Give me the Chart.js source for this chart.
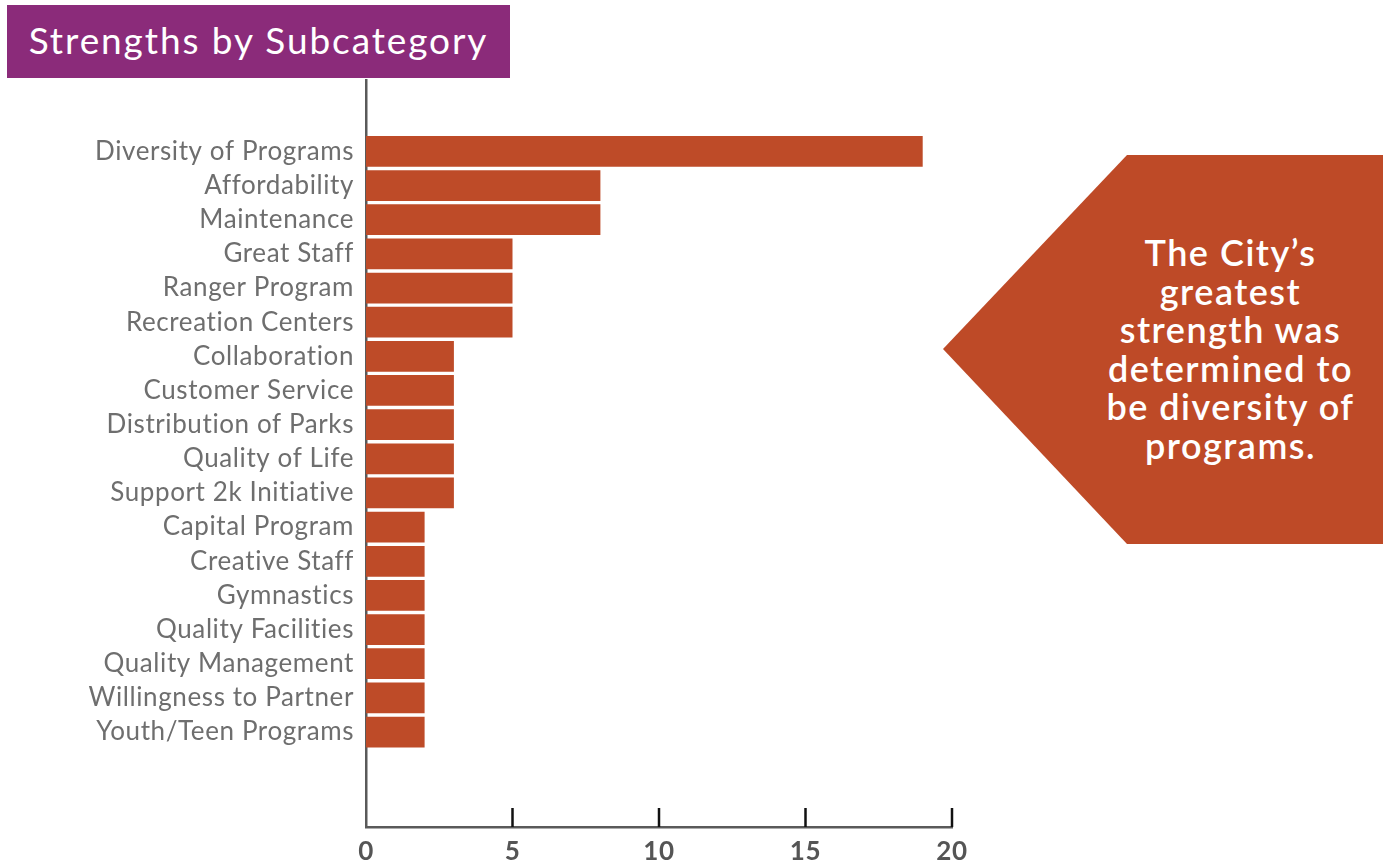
<!DOCTYPE html>
<html>
<head>
<meta charset="utf-8">
<script src="https://cdn.jsdelivr.net/npm/chart.js@4.4.1/dist/chart.umd.min.js"></script>
<style>
  html, body { margin: 0; padding: 0; background: #fff; }
  #wrap { position: relative; width: 1389px; height: 867px; overflow: hidden; }
  #chart { position: absolute; left: 0; top: 0; }
  #title {
    position: absolute; left: 7px; top: 5px; width: 503px; height: 73px;
    background: #8b2b7a; color: #fff; font-family: Lato, "Noto Sans", sans-serif;
    font-size: 37px; line-height: 70px; text-align: center; letter-spacing: 1.9px;
  }
  #callout {
    position: absolute; left: 943px; top: 155px; width: 440px; height: 389px;
    background: #be4a27;
    clip-path: polygon(184px 0, 440px 0, 440px 389px, 184px 389px, 0 194px);
  }
  #callout div {
    position: absolute; left: 130px; width: 315px; top: 78px;
    color: #fff; font-family: Lato, "Noto Sans", sans-serif; font-weight: 600;
    font-size: 36px; line-height: 38.5px; text-align: center; letter-spacing: 1.5px;
  }
</style>
</head>
<body>
<div id="wrap">
  <canvas id="chart" width="1389" height="867"></canvas>
  <div id="title">Strengths by Subcategory</div>
  <div id="callout"><div>The City’s<br>greatest<br>strength was<br>determined to<br>be diversity of<br>programs.</div></div>
</div>
<script>
(function () {
  const categories = [
    "Diversity of Programs", "Affordability", "Maintenance", "Great Staff",
    "Ranger Program", "Recreation Centers", "Collaboration", "Customer Service",
    "Distribution of Parks", "Quality of Life", "Support 2k Initiative",
    "Capital Program", "Creative Staff", "Gymnastics", "Quality Facilities",
    "Quality Management", "Willingness to Partner", "Youth/Teen Programs"
  ];
  const counts = [19, 8, 8, 5, 5, 5, 3, 3, 3, 3, 3, 2, 2, 2, 2, 2, 2, 2];
  const xTicks = [0, 5, 10, 15, 20];

  // wider letter spacing for the axis text, closer to the original typeface
  const spacing = {
    id: "spacing",
    beforeDraw(chart) {
      chart.ctx.letterSpacing = "0.6px";
    },
    afterDraw(chart) {
      chart.ctx.letterSpacing = "0px";
    },
  };

  // tick marks pointing up into the plot from the bottom axis
  const innerTicks = {
    id: "innerTicks",
    afterDraw(chart) {
      const ctx = chart.ctx;
      const xs = chart.scales.x;
      const bottom = chart.chartArea.bottom;
      ctx.save();
      ctx.strokeStyle = "#111";
      ctx.lineWidth = 2.5;
      xTicks.slice(1).forEach((v) => {
        const px = xs.getPixelForValue(v);
        ctx.beginPath();
        ctx.moveTo(px, bottom);
        ctx.lineTo(px, bottom - 19);
        ctx.stroke();
      });
      ctx.restore();
    },
  };

  const ctx = document.getElementById("chart").getContext("2d");
  new Chart(ctx, {
    type: "bar",
    data: {
      datasets: [
        {
          data: counts.map((v, i) => ({ x: v, y: i })),
          backgroundColor: "#be4b28",
          borderWidth: 0,
          barPercentage: 0.9,
          categoryPercentage: 1,
        },
      ],
    },
    options: {
      indexAxis: "y",
      responsive: false,
      animation: false,
      layout: { padding: { top: 80, right: 437, left: 0, bottom: 0 } },
      plugins: { legend: { display: false }, tooltip: { enabled: false } },
      scales: {
        x: {
          type: "linear",
          min: 0,
          max: 20,
          afterBuildTicks: (scale) => {
            scale.ticks = xTicks.map((v) => ({ value: v }));
          },
          afterFit: (scale) => {
            scale.height = 40;
          },
          grid: { display: false, drawTicks: false },
          border: { display: true, color: "#5a5a5a", width: 2.5 },
          ticks: {
            padding: 9,
            color: "#555",
            font: { family: "Lato, 'Noto Sans', sans-serif", size: 26, weight: "bold" },
          },
        },
        y: {
          type: "linear",
          reverse: true,
          offset: false,
          min: -2.09,
          max: 19.78,
          afterBuildTicks: (scale) => {
            scale.ticks = categories.map((_, i) => ({ value: i }));
          },
          afterFit: (scale) => {
            scale.width = 366;
          },
          grid: { display: false, drawTicks: false },
          border: { display: true, color: "#5a5a5a", width: 2.5 },
          ticks: {
            padding: 12,
            color: "#6e6e6e",
            autoSkip: false,
            callback: (v) => categories[v] || "",
            font: { family: "Lato, 'Noto Sans', sans-serif", size: 26 },
          },
        },
      },
    },
    plugins: [spacing, innerTicks],
  });
})();
</script>
</body>
</html>
